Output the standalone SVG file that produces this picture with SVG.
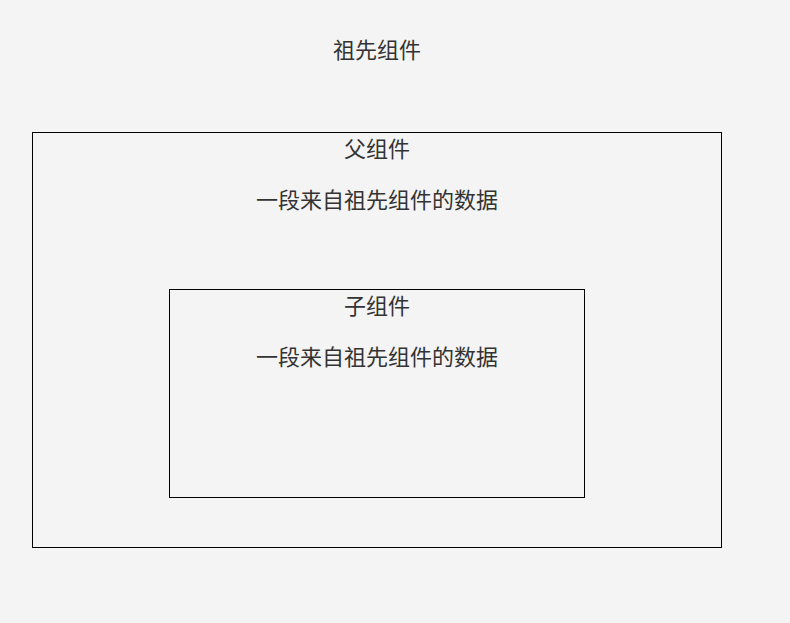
<svg xmlns="http://www.w3.org/2000/svg" width="790" height="623" viewBox="0 0 790 623">
<style>
.box{fill:none;stroke:#000;stroke-width:1}
.t{font-family:"Noto Sans CJK SC","Noto Sans",sans-serif;font-size:22px;fill:#333;text-anchor:middle}
</style>
<rect width="790" height="623" fill="#f4f4f4"/>
<g id="ancestor">
<text class="t" x="377" y="58">祖先组件</text>
</g>
<g id="parent">
<rect class="box" x="32.5" y="132.5" width="689" height="415"/>
<text class="t" x="377" y="157">父组件</text>
<text class="t" x="377" y="208">一段来自祖先组件的数据</text>
</g>
<g id="child">
<rect class="box" x="169.5" y="289.5" width="415" height="208"/>
<text class="t" x="377" y="314">子组件</text>
<text class="t" x="377" y="365">一段来自祖先组件的数据</text>
</g>
<g id="connectors"></g>
</svg>
